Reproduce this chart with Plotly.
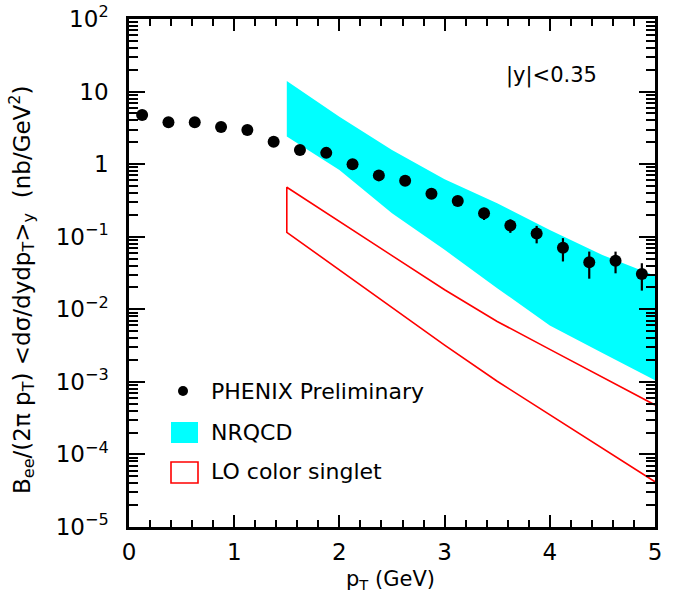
import plotly.graph_objects as go

# PHENIX preliminary data
pt = [0.125, 0.375, 0.625, 0.875, 1.125, 1.375, 1.625, 1.875, 2.125, 2.375,
      2.625, 2.875, 3.125, 3.375, 3.625, 3.875, 4.125, 4.375, 4.625, 4.875]
xsec = [4.75, 3.77, 3.77, 3.25, 2.95, 2.04, 1.57, 1.43, 1.0, 0.70,
        0.59, 0.39, 0.31, 0.21, 0.143, 0.111, 0.0706, 0.0444, 0.0468, 0.0306]
xsec_err = [0.2, 0.15, 0.15, 0.12, 0.1, 0.08, 0.06, 0.05, 0.04, 0.03,
            0.03, 0.035, 0.03, 0.04, 0.03, 0.03, 0.025, 0.018, 0.0155, 0.0125]

# NRQCD band
nrqcd_pt = [1.5, 2.0, 2.5, 3.0, 3.5, 4.0, 4.5, 5.0]
nrqcd_hi = [14.0, 4.5, 1.57, 0.62, 0.29, 0.124, 0.056, 0.029]
nrqcd_lo = [2.4, 0.83, 0.21, 0.066, 0.0195, 0.006, 0.0025, 0.00105]

# LO color singlet band
lo_pt = [1.5, 2.0, 2.5, 3.0, 3.5, 4.0, 4.5, 5.0]
lo_hi = [0.48, 0.163, 0.055, 0.0186, 0.0068, 0.0028, 0.00115, 0.00048]
lo_lo = [0.115, 0.035, 0.0105, 0.0032, 0.00102, 0.00035, 0.00012, 0.000042]

ytick_vals = [1e-5, 1e-4, 1e-3, 1e-2, 1e-1, 1, 10, 100]
ytick_text = ["10<sup>−5</sup>", "10<sup>−4</sup>", "10<sup>−3</sup>", "10<sup>−2</sup>",
              "10<sup>−1</sup>", "1", "10", "10<sup>2</sup>"]
xtick_vals = [0, 1, 2, 3, 4, 5]

FONT = "DejaVu Sans, Liberation Sans, sans-serif"

L, R, T, B = 129, 28, 19, 80
W, H = 683, 607
PW, PH = W - L - R, H - T - B


def px(xp):
    return (xp - L) / PW


def py(yp):
    return (H - B - yp) / PH


fig = go.Figure()

fig.add_trace(go.Scatter(
    x=nrqcd_pt + nrqcd_pt[::-1],
    y=nrqcd_hi + nrqcd_lo[::-1],
    fill="toself", fillcolor="#00FFFF", mode="none",
    hoverinfo="skip", showlegend=False))

# LO colour singlet outline: upper edge (right to left), left edge, lower edge
fig.add_trace(go.Scatter(
    x=lo_pt[::-1] + lo_pt,
    y=lo_hi[::-1] + lo_lo,
    mode="lines", line=dict(color="#FF0000", width=1.6),
    showlegend=False))

fig.add_trace(go.Scatter(
    x=pt, y=xsec, mode="markers",
    marker=dict(color="black", size=12),
    error_y=dict(type="data", array=xsec_err, color="black", thickness=2.2, width=0),
    showlegend=False))

fig.update_xaxes(
    range=[0, 5], tickvals=xtick_vals, ticktext=[str(v) for v in xtick_vals],
    ticks="inside", ticklen=12, tickwidth=1.5, tickcolor="black",
    minor=dict(ticks="inside", ticklen=7, tickwidth=1.5, tickcolor="black", dtick=0.2),
    showline=True, linecolor="black", linewidth=2.5, mirror="allticks",
    showgrid=False, zeroline=False, automargin=False,
    ticklabelstandoff=3,
    tickfont=dict(family=FONT, size=23, color="black"))

fig.update_yaxes(
    type="log", range=[-5, 2], tickvals=ytick_vals, ticktext=ytick_text,
    ticks="inside", ticklen=16, tickwidth=1.5, tickcolor="black",
    minor=dict(ticks="inside", ticklen=9, tickwidth=1.5, tickcolor="black", dtick="D1"),
    showline=True, linecolor="black", linewidth=2.5, mirror="allticks",
    showgrid=False, zeroline=False, automargin=False,
    ticklabelstandoff=13,
    tickfont=dict(family=FONT, size=23, color="black"))

# axis titles
fig.add_annotation(x=px(390), y=py(580), xref="paper", yref="paper",
                   text="p<sub>T</sub> (GeV)", showarrow=False,
                   xanchor="center", yanchor="middle",
                   font=dict(family=FONT, size=21, color="black"))
fig.add_annotation(x=px(22), y=py(290), xref="paper", yref="paper",
                   text="B<sub>ee</sub>/(2π p<sub>T</sub>) &lt;dσ/dydp<sub>T</sub>&gt;<sub>y</sub>  (nb/GeV<sup>2</sup>)",
                   showarrow=False, textangle=-90,
                   xanchor="center", yanchor="middle",
                   font=dict(family=FONT, size=23, color="black"))

# annotation
fig.add_annotation(x=px(551), y=py(75), xref="paper", yref="paper", text="|y|<0.35",
                   showarrow=False, xanchor="center", yanchor="middle",
                   font=dict(family=FONT, size=21, color="black"))

# manual legend
leg_font = dict(family=FONT, size=22, color="black")
fig.add_shape(type="circle", xref="paper", yref="paper",
              x0=px(183 - 5), x1=px(183 + 5),
              y0=py(391 + 5), y1=py(391 - 5),
              fillcolor="black", line=dict(color="black", width=0))
fig.add_shape(type="rect", xref="paper", yref="paper",
              x0=px(171), x1=px(198), y0=py(443), y1=py(422),
              fillcolor="#00FFFF", line=dict(width=0))
fig.add_shape(type="rect", xref="paper", yref="paper",
              x0=px(171), x1=px(198), y0=py(483), y1=py(462),
              fillcolor="rgba(0,0,0,0)", line=dict(color="#FF0000", width=1.6))
for ytext, label in [(391, "PHENIX Preliminary"), (432, "NRQCD"), (471, "LO color singlet")]:
    fig.add_annotation(x=px(209), y=py(ytext), xref="paper", yref="paper",
                       text=label, showarrow=False, xanchor="left", yanchor="middle",
                       font=leg_font)

fig.update_layout(
    width=W, height=H,
    margin=dict(l=L, r=R, t=T, b=B, autoexpand=False),
    paper_bgcolor="white", plot_bgcolor="white",
    showlegend=False,
    font=dict(family=FONT, color="black"))

fig.write_html("out.html",
               config={"displayModeBar": False},
               post_script="document.body.style.margin='0';document.body.style.padding='0';")
